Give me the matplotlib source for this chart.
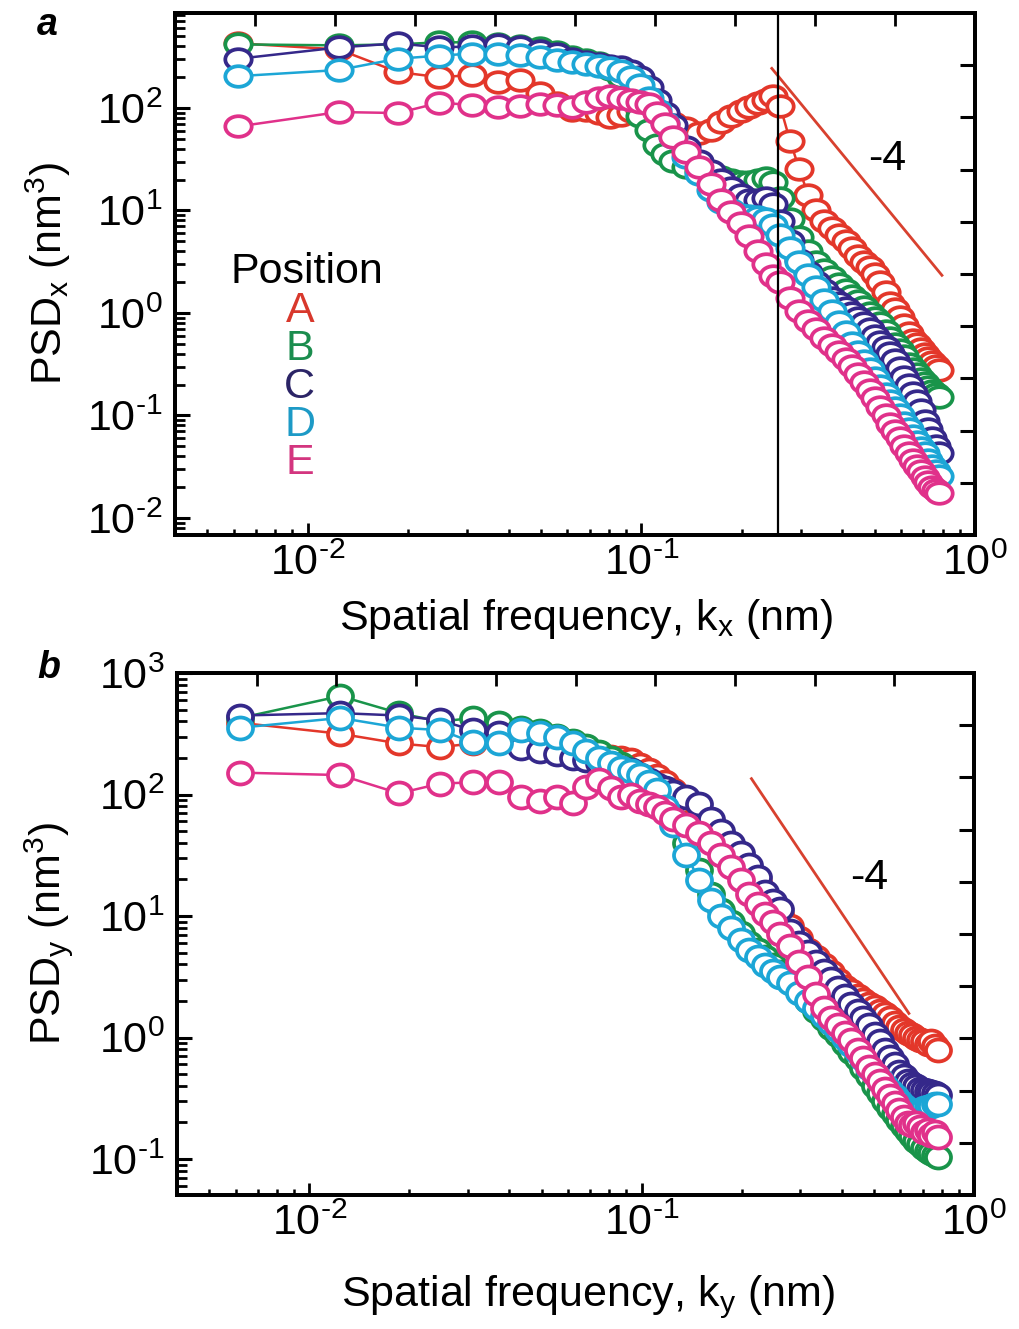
import numpy as np
import matplotlib
matplotlib.use('Agg')
import matplotlib.pyplot as plt
from matplotlib.path import Path
from matplotlib.transforms import Affine2D
from matplotlib.ticker import LogLocator, NullFormatter, FuncFormatter

plt.rcParams['font.family'] = ['Liberation Sans', 'DejaVu Sans']
plt.rcParams['mathtext.fontset'] = 'custom'
plt.rcParams['mathtext.rm'] = 'Liberation Sans'
plt.rcParams['mathtext.it'] = 'Liberation Sans:italic'
plt.rcParams['mathtext.bf'] = 'Liberation Sans:bold'
plt.rcParams['axes.unicode_minus'] = False

# ---------------- data ----------------
positions = ['A', 'B', 'C', 'D', 'E']

# spatial frequency (nm^-1)
k = [0.0062, 0.0124, 0.0186, 0.0248, 0.0310, 0.0372, 0.0434, 0.0496, 0.0558, 0.0620,
     0.0682, 0.0744, 0.0806, 0.0868, 0.0930, 0.0992, 0.1054, 0.1116, 0.1178, 0.1240,
     0.1364, 0.1488, 0.1612, 0.1736, 0.1860, 0.1984, 0.2108, 0.2232, 0.2356, 0.2480,
     0.2604, 0.2790, 0.2976, 0.3162, 0.3348, 0.3534, 0.3720, 0.3906, 0.4092, 0.4278,
     0.4464, 0.4650, 0.4836, 0.5022, 0.5208, 0.5394, 0.5580, 0.5766, 0.5952, 0.6138,
     0.6324, 0.6510, 0.6696, 0.6882, 0.7068, 0.7254, 0.7440, 0.7626, 0.7812]

# log10 of PSD_x (nm^3), panel a
log_psdx_A = [2.63, 2.57, 2.35, 2.30, 2.32, 2.25, 2.27, 2.15, 2.05, 1.98, 1.98, 1.95, 1.91, 1.93, 1.97, 1.98, 1.95, 1.92, 1.88, 1.85,
              1.80, 1.76, 1.78, 1.86, 1.92, 1.97, 2.01, 2.05, 2.08, 2.12,
              2.02, 1.68, 1.40, 1.15, 1.00, 0.90, 0.83, 0.76, 0.70, 0.63, 0.56, 0.50, 0.45, 0.38, 0.30, 0.20, 0.10, 0.04, -0.04, -0.12,
              -0.20, -0.26, -0.30, -0.35, -0.40, -0.44, -0.48, -0.52, -0.56]
log_psdx_B = [2.62, 2.61, 2.62, 2.64, 2.64, 2.62, 2.60, 2.58, 2.55, 2.50, 2.47, 2.44, 2.38, 2.30, 2.12, 1.92, 1.78, 1.64, 1.55, 1.48,
              1.42, 1.38, 1.36, 1.33, 1.30, 1.28, 1.28, 1.30, 1.32, 1.28,
              1.12, 0.92, 0.74, 0.60, 0.50, 0.42, 0.35, 0.28, 0.22, 0.17, 0.12, 0.06, 0.00, -0.05, -0.10, -0.18, -0.24, -0.30, -0.36, -0.42,
              -0.50, -0.55, -0.60, -0.64, -0.68, -0.72, -0.76, -0.79, -0.82]
log_psdx_C = [2.48, 2.59, 2.63, 2.59, 2.60, 2.61, 2.59, 2.56, 2.53, 2.48, 2.45, 2.43, 2.41, 2.40, 2.36, 2.30, 2.20, 2.08, 1.95, 1.83,
              1.62, 1.48, 1.38, 1.30, 1.22, 1.15, 1.10, 1.10, 1.12, 1.06,
              0.90, 0.70, 0.52, 0.40, 0.30, 0.22, 0.15, 0.10, 0.05, 0.00, -0.05, -0.10, -0.16, -0.22, -0.28, -0.33, -0.39, -0.46, -0.54, -0.62,
              -0.70, -0.78, -0.86, -0.95, -1.05, -1.13, -1.22, -1.30, -1.37]
log_psdx_D = [2.31, 2.37, 2.48, 2.51, 2.53, 2.53, 2.52, 2.50, 2.47, 2.45, 2.43, 2.41, 2.39, 2.36, 2.30, 2.22, 2.10, 1.98, 1.85, 1.72,
              1.52, 1.36, 1.20, 1.08, 1.00, 0.96, 0.95, 0.94, 0.92, 0.86,
              0.76, 0.63, 0.50, 0.37, 0.25, 0.13, 0.02, -0.09, -0.19, -0.29, -0.38, -0.47, -0.55, -0.63, -0.71, -0.79, -0.86, -0.93, -1.00, -1.07,
              -1.13, -1.20, -1.26, -1.32, -1.37, -1.43, -1.49, -1.54, -1.59]
log_psdx_E = [1.82, 1.96, 1.95, 2.05, 2.03, 2.01, 2.02, 2.04, 2.03, 2.01, 2.06, 2.10, 2.12, 2.10, 2.08, 2.06, 2.04, 1.95, 1.84, 1.72,
              1.57, 1.42, 1.26, 1.10, 0.98, 0.88, 0.75, 0.60, 0.48, 0.36,
              0.30, 0.15, 0.02, -0.08, -0.16, -0.24, -0.31, -0.38, -0.45, -0.52, -0.60, -0.67, -0.75, -0.83, -0.92, -1.00, -1.08, -1.15, -1.22, -1.30,
              -1.37, -1.43, -1.49, -1.54, -1.60, -1.65, -1.70, -1.73, -1.76]

# log10 of PSD_y (nm^3), panel b
log_psdy_A = [2.59, 2.50, 2.42, 2.39, 2.42, 2.45, 2.45, 2.44, 2.42, 2.40, 2.36, 2.33, 2.31, 2.30, 2.28, 2.24, 2.20, 2.15, 2.10, 2.04,
              1.95, 1.85, 1.75, 1.65, 1.56, 1.48, 1.38, 1.28, 1.18, 1.10,
              1.02, 0.92, 0.82, 0.72, 0.66, 0.60, 0.54, 0.47, 0.42, 0.38, 0.34, 0.31, 0.28, 0.25, 0.22, 0.19, 0.16, 0.12, 0.09, 0.06,
              0.04, 0.02, 0.00, -0.02, -0.03, -0.05, -0.03, -0.07, -0.10]
log_psdy_B = [2.63, 2.81, 2.67, 2.60, 2.63, 2.59, 2.55, 2.52, 2.48, 2.44, 2.40, 2.35, 2.30, 2.25, 2.20, 2.15, 2.08, 2.00, 1.90, 1.80,
              1.60, 1.38, 1.18, 1.05, 0.95, 0.86, 0.78, 0.72, 0.66, 0.60,
              0.54, 0.46, 0.38, 0.30, 0.22, 0.15, 0.08, 0.02, -0.05, -0.12, -0.18, -0.25, -0.32, -0.40, -0.46, -0.52, -0.58, -0.63, -0.68, -0.73,
              -0.77, -0.81, -0.85, -0.88, -0.91, -0.93, -0.95, -0.97, -0.98]
log_psdy_C = [2.65, 2.67, 2.65, 2.61, 2.53, 2.51, 2.38, 2.36, 2.33, 2.30, 2.28, 2.26, 2.24, 2.22, 2.20, 2.16, 2.12, 2.08, 2.05, 2.02,
              1.98, 1.92, 1.80, 1.70, 1.60, 1.52, 1.42, 1.32, 1.20, 1.12,
              1.06, 0.88, 0.78, 0.70, 0.62, 0.55, 0.48, 0.41, 0.34, 0.28, 0.22, 0.16, 0.10, 0.03, -0.03, -0.10, -0.16, -0.22, -0.28, -0.32,
              -0.36, -0.38, -0.40, -0.42, -0.43, -0.44, -0.45, -0.46, -0.47]
log_psdy_D = [2.55, 2.63, 2.55, 2.53, 2.43, 2.42, 2.53, 2.51, 2.47, 2.42, 2.36, 2.30, 2.26, 2.22, 2.19, 2.16, 2.10, 2.04, 1.90, 1.75,
              1.50, 1.30, 1.13, 1.00, 0.90, 0.80, 0.72, 0.66, 0.60, 0.55,
              0.50, 0.45, 0.37, 0.30, 0.24, 0.18, 0.12, 0.06, 0.00, -0.06, -0.12, -0.18, -0.25, -0.30, -0.35, -0.40, -0.44, -0.48, -0.52, -0.56,
              -0.60, -0.62, -0.63, -0.60, -0.58, -0.57, -0.56, -0.55, -0.55]
log_psdy_E = [2.18, 2.16, 2.01, 2.09, 2.10, 2.10, 1.98, 1.95, 1.98, 1.93, 2.06, 2.12, 2.05, 1.98, 2.00, 1.95, 1.92, 1.90, 1.85, 1.80,
              1.75, 1.68, 1.60, 1.50, 1.40, 1.30, 1.18, 1.10, 1.02, 0.95,
              0.85, 0.75, 0.62, 0.50, 0.36, 0.24, 0.16, 0.10, 0.04, -0.02, -0.10, -0.17, -0.24, -0.30, -0.36, -0.42, -0.48, -0.54, -0.60, -0.65,
              -0.70, -0.72, -0.70, -0.74, -0.78, -0.76, -0.80, -0.78, -0.82]

# -4 power-law guide lines
guide_a_k = [0.246, 0.796]
guide_a_psd = [243.0, 2.33]
guide_b_k = [0.214, 0.637]
guide_b_psd = [135.0, 1.58]
cutoff_k = 0.2575

series_colors = ['#e3372a', '#19944a', '#35288a', '#1ca6d6', '#e0318a']
text_colors = ['#d8382c', '#1b8d4e', '#2b2466', '#1d9ac6', '#d3357f']
guide_color = '#d8412f'

psdx = [log_psdx_A, log_psdx_B, log_psdx_C, log_psdx_D, log_psdx_E]
psdy = [log_psdy_A, log_psdy_B, log_psdy_C, log_psdy_D, log_psdy_E]

FS = 31


def ellipse(aspect):
    return Path.unit_circle().transformed(Affine2D().scale(1.0, aspect))


def decade_label(v, pos):
    e = int(round(np.log10(v)))
    if e < 0:
        return r'$\mathregular{10^{\text{-}%d}}$' % (-e)
    return r'$\mathregular{10^{%d}}$' % e


def style_axis(ax):
    ax.set_xscale('log')
    ax.set_yscale('log')
    for s in ax.spines.values():
        s.set_linewidth(2.6)
    ax.xaxis.set_major_locator(LogLocator(base=10, numticks=20))
    ax.xaxis.set_minor_locator(LogLocator(base=10, subs=np.arange(2, 10), numticks=20))
    ax.yaxis.set_major_locator(LogLocator(base=10, numticks=20))
    ax.yaxis.set_minor_locator(LogLocator(base=10, subs=np.arange(2, 10), numticks=20))
    ax.xaxis.set_major_formatter(FuncFormatter(decade_label))
    ax.yaxis.set_major_formatter(FuncFormatter(decade_label))
    ax.xaxis.set_minor_formatter(NullFormatter())
    ax.yaxis.set_minor_formatter(NullFormatter())
    ax.tick_params(axis='both', which='both', direction='in', top=False, right=False, labelsize=FS)
    ax.tick_params(axis='x', which='major', length=9, width=2.0, pad=6)
    ax.tick_params(axis='x', which='minor', length=4.5, width=1.8)
    ax.tick_params(axis='y', which='major', length=11, width=2.2, pad=9)
    ax.tick_params(axis='y', which='minor', length=7, width=2.0)
    # extra unlabeled ticks on the right and top frames
    axr = ax.twinx()
    axr.set_ylim(0, 1)
    axr.set_yticks(np.arange(1, 10) / 10)
    axr.tick_params(axis='y', direction='in', length=11, width=2.2, labelright=False)
    axt = ax.twiny()
    axt.set_xlim(0, 1)
    axt.set_xticks(np.arange(1, 10) / 10)
    axt.tick_params(axis='x', direction='in', length=9, width=2.0, labeltop=False)
    for a in (axr, axt):
        for s in a.spines.values():
            s.set_linewidth(2.6)


fig = plt.figure(figsize=(10.19, 13.29), dpi=100)
W, H = 1019, 1329
ax1 = fig.add_axes([175 / W, (H - 535) / H, 800 / W, 522 / H])
ax2 = fig.add_axes([177 / W, (H - 1195) / H, 797 / W, 522 / H])

# ---------- panel a ----------
ma = ellipse(0.78)
for vals, c in zip(psdx, series_colors):
    ax1.plot(k, 10 ** np.array(vals), '-', color=c, lw=1.8, marker=ma, ms=19,
             mfc='white', mec=c, mew=2.7)
ax1.axvline(cutoff_k, color='black', lw=1.6, zorder=5)
ax1.plot(guide_a_k, guide_a_psd, '-', color=guide_color, lw=2.0)
ax1.text(0.545, 31.6, '-4', fontsize=FS, ha='center', va='center')
ax1.set_xlim(0.004, 1.0)
ax1.set_ylim(0.00683, 843)
ax1.set_xlabel(r'Spatial frequency, k$_\mathregular{x}$ (nm)', fontsize=FS)
ax1.set_ylabel(r'PSD$_\mathregular{x}$ (nm$^\mathregular{3}$)', fontsize=FS)
ax1.xaxis.set_label_coords(0.514, -0.118)
ax1.yaxis.set_label_coords(-0.128, 0.5)
ax1.text(0.069, 0.483, 'Position', transform=ax1.transAxes, fontsize=FS,
         ha='left', va='baseline')
letter_y = [0.408, 0.335, 0.262, 0.190, 0.117]
for lab, tc, yy in zip(positions, text_colors, letter_y):
    ax1.text(0.156, yy, lab, transform=ax1.transAxes, fontsize=FS, color=tc,
             ha='center', va='baseline')
style_axis(ax1)

# ---------- panel b ----------
mb = ellipse(0.88)
for vals, c in zip(psdy, series_colors):
    ax2.plot(k, 10 ** np.array(vals), '-', color=c, lw=1.8, marker=mb, ms=18,
             mfc='white', mec=c, mew=2.7)
ax2.plot(guide_b_k, guide_b_psd, '-', color=guide_color, lw=2.0)
ax2.text(0.483, 20.4, '-4', fontsize=FS, ha='center', va='center')
ax2.set_xlim(0.004, 1.0)
ax2.set_ylim(0.0506, 1000)
ax2.set_xlabel(r'Spatial frequency, k$_\mathregular{y}$ (nm)', fontsize=FS)
ax2.set_ylabel(r'PSD$_\mathregular{y}$ (nm$^\mathregular{3}$)', fontsize=FS)
ax2.xaxis.set_label_coords(0.516, -0.15)
ax2.yaxis.set_label_coords(-0.128, 0.5)
style_axis(ax2)

fig.text(37 / W, 1 - 35 / H, 'a', fontsize=27, fontweight='bold', fontstyle='italic',
         ha='left', va='baseline')
fig.text(37 / W, 1 - 678 / H, 'b', fontsize=27, fontweight='bold', fontstyle='italic',
         ha='left', va='baseline')

fig.savefig('out.png', dpi=100, facecolor='white')
